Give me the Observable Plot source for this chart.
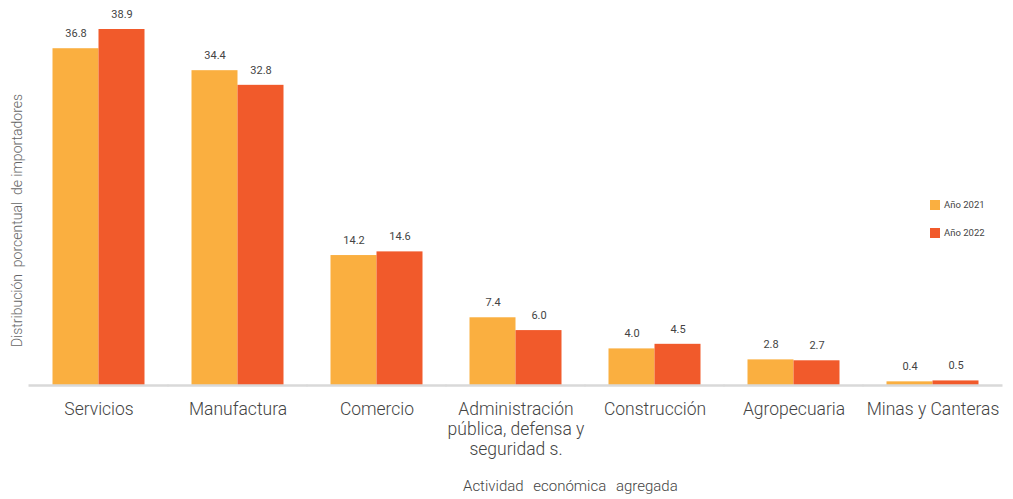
<!DOCTYPE html>
<html>
<head>
<meta charset="utf-8">
<script src="https://cdn.jsdelivr.net/npm/d3@7"></script>
<script src="https://cdn.jsdelivr.net/npm/@observablehq/plot@0.6"></script>
<style>
  body { margin: 0; background: #fff; font-family: Roboto, "Noto Sans", sans-serif; }
  #wrap { position: relative; width: 1013px; height: 499px; }
  .leg { position: absolute; left: 930px; font-size: 9.5px; color: #444; display: flex; align-items: center; }
  .leg span.sw { display: inline-block; width: 10px; height: 10px; margin-right: 4px; }
  #xtitle { position: absolute; top: 477px; left: 463px; font-size: 15px; font-weight: 300; color: #444; word-spacing: 6px; }
</style>
</head>
<body>
<div id="wrap"></div>
<script>
const categories = ["Servicios", "Manufactura", "Comercio", "Administración\npública, defensa y\nseguridad s.", "Construcción", "Agropecuaria", "Minas y Canteras"];
const series = ["Año 2021", "Año 2022"];
const values2021 = [36.8, 34.4, 14.2, 7.4, 4.0, 2.8, 0.4];
const values2022 = [38.9, 32.8, 14.6, 6.0, 4.5, 2.7, 0.5];
const colors = ["#FAAF40", "#F15A2B"];

const data = [];
categories.forEach((c, i) => {
  data.push({cat: c, serie: series[0], value: values2021[i]});
  data.push({cat: c, serie: series[1], value: values2022[i]});
});

const chart = Plot.plot({
  width: 1013,
  height: 499,
  marginLeft: 29.5,
  marginRight: 10.5,
  marginTop: 29,
  marginBottom: 114,
  style: {fontFamily: "Roboto, 'Noto Sans', sans-serif", background: "#fff"},
  fx: {domain: categories, paddingInner: 0.33, paddingOuter: 0.165},
  x: {domain: series, padding: 0, axis: null},
  y: {domain: [0, d3.max([...values2021, ...values2022])], axis: null},
  color: {domain: series, range: colors},
  marks: [
    Plot.barY(data, {fx: "cat", x: "serie", y: "value", fill: "serie"}),
    Plot.ruleY([0], {stroke: "#d9d9d9", strokeWidth: 2.5, insetLeft: -23.5, insetRight: -23.5}),
    Plot.text(data, {fx: "cat", x: "serie", y: "value", text: d => d.value.toFixed(1), dy: -15, fontSize: 11, fill: "#444"}),
    Plot.axisFx({anchor: "bottom", tickSize: 0, tickPadding: 15, fontSize: 17.5, fontWeight: 300, color: "#444", lineHeight: 1.15, label: null}),
    Plot.axisY({ticks: [], label: "Distribución  porcentual  de importadores", labelAnchor: "center", labelArrow: "none", labelOffset: 40, fontSize: 14, fontWeight: 300, color: "#666"})
  ]
});

// nudge the y-axis title slightly downward, as in the reference
d3.select(chart).selectAll('[aria-label="y-axis label"] text').attr("dx", "-13");

const wrap = document.getElementById("wrap");
wrap.appendChild(chart);
series.forEach((s, i) => {
  const d = document.createElement("div");
  d.className = "leg";
  d.style.top = (199 + i * 28) + "px";
  d.innerHTML = `<span class="sw" style="background:${colors[i]}"></span>${s}`;
  wrap.appendChild(d);
});
const xt = document.createElement("div");
xt.id = "xtitle";
xt.textContent = "Actividad económica agregada";
wrap.appendChild(xt);
</script>
</body>
</html>
